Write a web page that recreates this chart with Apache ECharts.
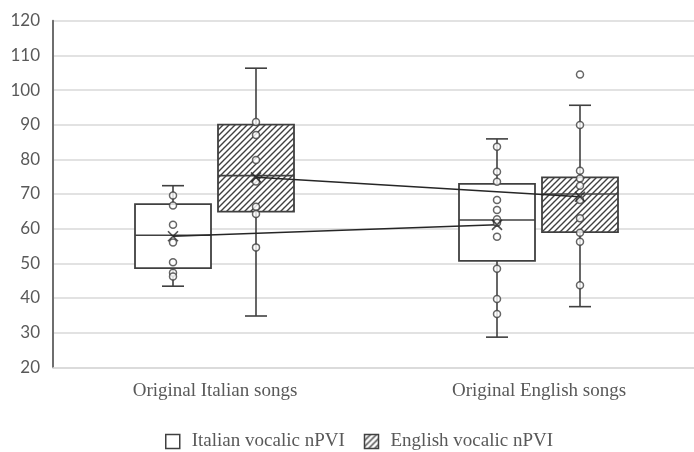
<!DOCTYPE html>
<html><head><meta charset="utf-8">
<script src="https://cdn.jsdelivr.net/npm/echarts@6/dist/echarts.min.js"></script>
<style>html,body{margin:0;padding:0;background:#fff}#c{width:694px;height:452px}</style>
</head><body><div id="c"></div>
<script>
const categories = ['Original Italian songs', 'Original English songs'];
const seriesNames = ['Italian vocalic nPVI', 'English vocalic nPVI'];
const yMin = 20, yMax = 120, yInterval = 10;
// box stats per category: [min, Q1, median, Q3, max]
const italianBoxes = [[43.4, 48.6, 58.1, 67.1, 72.4], [28.7, 50.7, 62.5, 72.9, 85.9]];
const englishBoxes = [[34.8, 64.9, 75.3, 90.0, 106.3], [37.5, 59.0, 70.0, 74.8, 95.6]];
const italianMeans = [57.8, 61.1];
const englishMeans = [74.8, 69.2];
const italianPoints = [
  [69.6, 66.7, 61.1, 56.0, 50.3, 47.3, 46.2],
  [83.6, 76.4, 73.5, 68.3, 65.4, 62.7, 61.7, 57.7, 48.4, 39.7, 35.4]
];
const englishPoints = [
  [90.8, 87.0, 79.8, 73.6, 66.3, 64.2, 54.6],
  [104.5, 89.9, 76.7, 74.5, 72.4, 68.3, 63.0, 58.8, 56.2, 43.7]
];

const DARK = '#404040';
const TEXT = '#595959';
function makeHatch() {
  const s = 6, c = document.createElement('canvas');
  c.width = s; c.height = s;
  const g = c.getContext('2d');
  g.fillStyle = '#fff'; g.fillRect(0, 0, s, s);
  g.strokeStyle = DARK; g.lineWidth = 1.4;
  g.beginPath();
  g.moveTo(0, s); g.lineTo(s, 0);
  g.moveTo(-s / 2, s / 2); g.lineTo(s / 2, -s / 2);
  g.moveTo(s / 2, s * 1.5); g.lineTo(s * 1.5, s / 2);
  g.stroke();
  return { image: c, repeat: 'repeat' };
}
const hatch = makeHatch();

function boxRender(fill) {
  return function (params, api) {
    const x = api.value(0);
    const pt = k => api.coord([x, api.value(k)]);
    const lo = pt(1), q1 = pt(2), md = pt(3), q3 = pt(4), hi = pt(5);
    const cx = md[0], hw = 38, cw = 11;
    const ls = { stroke: DARK, lineWidth: 1.6 };
    return { type: 'group', children: [
      { type: 'line', shape: { x1: cx, y1: q3[1], x2: cx, y2: hi[1] }, style: ls },
      { type: 'line', shape: { x1: cx, y1: q1[1], x2: cx, y2: lo[1] }, style: ls },
      { type: 'line', shape: { x1: cx - cw, y1: hi[1], x2: cx + cw, y2: hi[1] }, style: ls },
      { type: 'line', shape: { x1: cx - cw, y1: lo[1], x2: cx + cw, y2: lo[1] }, style: ls },
      { type: 'rect', shape: { x: cx - hw, y: q3[1], width: 2 * hw, height: q1[1] - q3[1] }, style: { fill: fill, stroke: DARK, lineWidth: 1.8 } },
      { type: 'line', shape: { x1: cx - hw, y1: md[1], x2: cx + hw, y2: md[1] }, style: ls }
    ] };
  };
}

function pointsData(groups) {
  const out = [];
  groups.forEach((vals, i) => vals.forEach(v => out.push([categories[i], v])));
  return out;
}

const gridBase = { top: 20.7, height: 346.6, width: 648, outerBoundsMode: 'none', containLabel: false };
const hiddenX = i => ({ type: 'category', data: categories, gridIndex: i, show: false });
const hiddenY = i => ({ type: 'value', min: yMin, max: yMax, interval: yInterval, gridIndex: i, show: false });

function groupSeries(gi, name, boxes, fill, points, means) {
  return [
    { type: 'custom', name: name, xAxisIndex: gi, yAxisIndex: gi, z: 2,
      itemStyle: { color: fill, borderColor: DARK },
      encode: { x: 0, y: [1, 2, 3, 4, 5] },
      renderItem: boxRender(fill),
      data: boxes.map((b, i) => [i].concat(b)) },
    { type: 'line', name: name + ' means line', xAxisIndex: gi, yAxisIndex: gi, z: 3,
      symbol: 'none', lineStyle: { color: '#262626', width: 1.5 },
      data: means.map((m, i) => [categories[i], m]) },
    { type: 'scatter', name: name + ' points', xAxisIndex: gi, yAxisIndex: gi, z: 4,
      symbol: 'circle', symbolSize: 7,
      itemStyle: { color: '#fff', borderColor: DARK, borderWidth: 1.5 },
      data: pointsData(points) },
    { type: 'scatter', name: name + ' mean', xAxisIndex: gi, yAxisIndex: gi, z: 5,
      symbol: 'path://M0,0L10,10M10,0L0,10', symbolSize: 10,
      itemStyle: { color: 'transparent', borderColor: '#262626', borderWidth: 1.6 },
      data: means.map((m, i) => [categories[i], m]) }
  ];
}

const chart = echarts.init(document.getElementById('c'), null, { renderer: 'canvas' });
chart.setOption({
  animation: false,
  backgroundColor: '#fff',
  grid: [
    Object.assign({ left: 53 }, gridBase),
    Object.assign({ left: 11 }, gridBase),
    Object.assign({ left: 94 }, gridBase)
  ],
  xAxis: [
    { type: 'category', data: categories, gridIndex: 0,
      axisLine: { lineStyle: { color: '#d9d9d9', width: 1.5 } },
      axisTick: { show: false },
      axisLabel: { fontFamily: 'Liberation Serif', fontSize: 19, color: TEXT, margin: 14 } },
    hiddenX(1), hiddenX(2)
  ],
  yAxis: [
    { type: 'value', min: yMin, max: yMax, interval: yInterval, gridIndex: 0,
      axisLine: { show: true, lineStyle: { color: '#6e6e6e', width: 2 } },
      axisTick: { show: false },
      splitLine: { lineStyle: { color: '#d9d9d9', width: 1.5 } },
      axisLabel: { fontFamily: 'Lato', fontSize: 17, color: TEXT, margin: 13 } },
    hiddenY(1), hiddenY(2)
  ],
  legend: {
    left: 160, top: 427, itemWidth: 14, itemHeight: 14, itemGap: 19, icon: 'rect',
    textStyle: { fontFamily: 'Liberation Serif', fontSize: 19, color: TEXT, padding: [0, 0, 0, 7] },
    data: [
      { name: seriesNames[0], itemStyle: { color: '#fff', borderColor: DARK, borderWidth: 1.5 } },
      { name: seriesNames[1], itemStyle: { color: hatch, borderColor: DARK, borderWidth: 1.5 } }
    ]
  },
  series: [].concat(
    groupSeries(1, seriesNames[0], italianBoxes, '#fff', italianPoints, italianMeans),
    groupSeries(2, seriesNames[1], englishBoxes, hatch, englishPoints, englishMeans)
  )
});
</script></body></html>
